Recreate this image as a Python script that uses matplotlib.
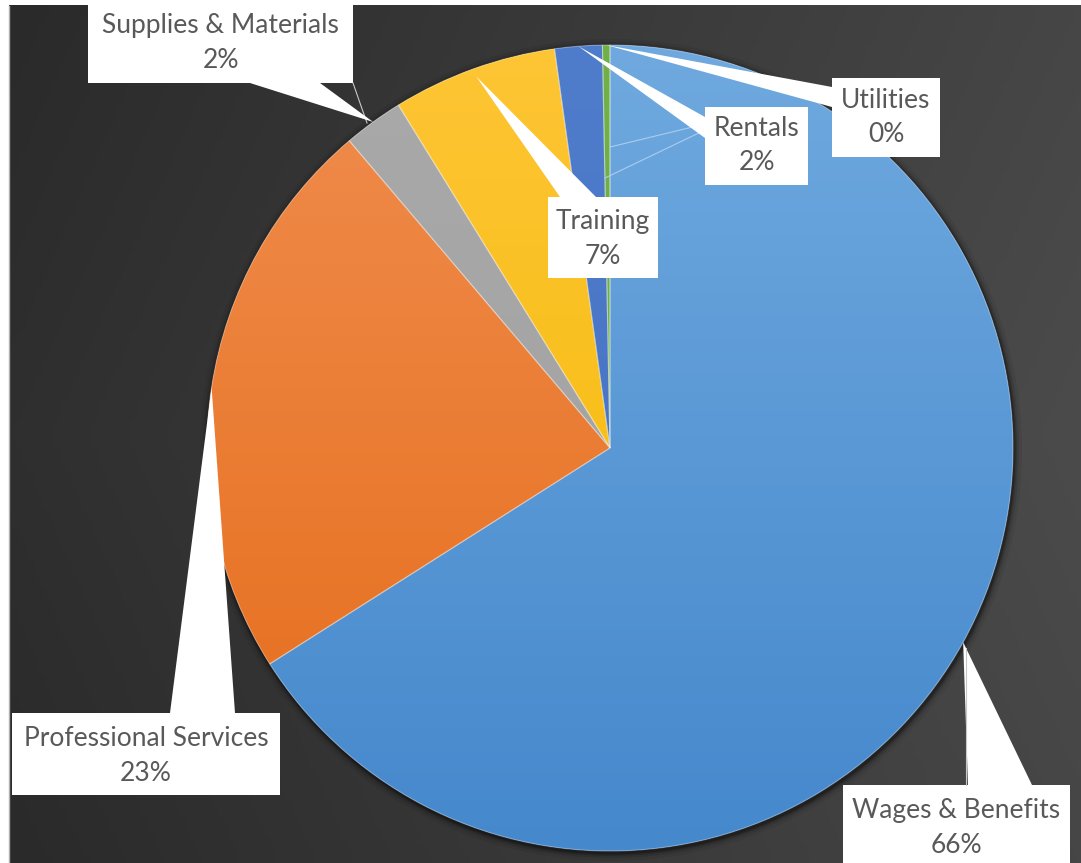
import numpy as np
import matplotlib.pyplot as plt
from matplotlib.patches import Wedge, Rectangle, Polygon, Circle
from matplotlib.colors import to_rgb

# Dados do gráfico
categories = ['Wages & Benefits', 'Professional Services', 'Supplies & Materials',
              'Training', 'Rentals', 'Utilities']
values = [66.0, 22.8, 2.4, 6.6, 1.9, 0.3]

# cores (topo -> base do gradiente)
colors_top = ['#6fa9df', '#f08d4e', '#a9a9a9', '#fec535', '#4f7ccb', '#72b04a']
colors_bot = ['#4588cc', '#e56c19', '#a0a0a0', '#f2b900', '#4270c0', '#6aa842']

W, H = 1081, 863
CX, CY, R = 610, H - 448, 403

# caixas dos rótulos (x0, y0, x1, y1 em pixels a partir do topo) e base do balão
boxes = {
    'Wages & Benefits': (843, 785, 1070, 867),
    'Professional Services': (12, 713, 280, 795),
    'Supplies & Materials': (88, 0, 353, 83),
    'Training': (548, 197, 658, 278),
    'Rentals': (705, 107, 808, 185),
    'Utilities': (832, 78, 940, 157),
}
bases = {
    'Wages & Benefits': [(968, 785), (1032, 785)],
    'Professional Services': [(170, 713), (235, 713)],
    'Supplies & Materials': [(250, 83), (320, 83)],
    'Training': [(560, 197), (596, 197)],
    'Rentals': [(705, 117), (705, 138)],
    'Utilities': [(832, 87), (832, 107)],
}
tip_r = {'Training': 0.98}

def Y(py):
    return H - py

fig = plt.figure(figsize=(W / 100, H / 100), dpi=100, facecolor='white')
ax = fig.add_axes([0, 0, 1, 1])

# fundo escuro com gradiente
gx = np.linspace(0, 1, 256)
gy = np.linspace(0, 1, 128)
GX, GY = np.meshgrid(gx, gy)
c0 = np.array(to_rgb('#2a2a2a'))
c1 = np.array(to_rgb('#4b4b4b'))
t = np.clip(0.85 * GX + 0.15 * (1 - abs(GY - 0.5) * 2), 0, 1)
bg = c0 + (c1 - c0) * t[..., None]
ax.imshow(bg, extent=(9, W, 0, Y(6)), origin='lower', aspect='auto', zorder=0)
ax.plot([8.5, 8.5], [0, Y(6)], color='#b0b0b0', lw=1, zorder=0.5)

# sombra
for k, a in [(8, 0.06), (5, 0.1), (3, 0.16), (1.5, 0.25)]:
    ax.add_patch(Circle((CX + 1, CY - 2), R + k, color='black', alpha=a, lw=0, zorder=1))

wedges, _ = ax.pie(values, center=(CX, CY), radius=R, startangle=90,
                   counterclock=False, colors=colors_bot,
                   wedgeprops=dict(linewidth=0, zorder=2))

# gradiente vertical em cada fatia
for w, ct, cb in zip(wedges, colors_top, colors_bot):
    g = np.linspace(0, 1, 256)[:, None]
    img = np.array(to_rgb(cb)) + (np.array(to_rgb(ct)) - np.array(to_rgb(cb))) * g[..., None]
    im = ax.imshow(img, extent=(CX - R, CX + R, CY - R, CY + R), origin='lower',
                   aspect='auto', zorder=3)
    im.set_clip_path(w)
    ax.add_patch(Wedge(w.center, w.r, w.theta1, w.theta2, fill=False,
                       edgecolor=(1, 1, 1, 0.35), lw=0.8, zorder=4))

# rótulos com balões
total = sum(values)
for w, name, v in zip(wedges, categories, values):
    mid = np.deg2rad((w.theta1 + w.theta2) / 2)
    rr = R * tip_r.get(name, 1.0)
    tip = (CX + rr * np.cos(mid), CY + rr * np.sin(mid))
    (bx0, by0), (bx1, by1) = bases[name]
    ax.add_patch(Polygon([tip, (bx0, Y(by0)), (bx1, Y(by1))], closed=True,
                         facecolor='white', edgecolor='none', zorder=6))
    x0, y0, x1, y1 = boxes[name]
    ax.add_patch(Rectangle((x0, Y(y1)), x1 - x0, y1 - y0, facecolor='white',
                           edgecolor='none', zorder=7))
    xc = (x0 + x1) / 2
    ax.text(xc, Y(y1 - 57), name, ha='center', va='center', fontsize=19,
            family='Lato', color='#595959', zorder=8)
    ax.text(xc, Y(y1 - 22), f'{round(v / total * 100)}%', ha='center', va='center',
            fontsize=19, family='Lato', color='#595959', zorder=8)

# linhas de chamada finas
lc = '#c8c8c8'
ax.plot([353, 367], [Y(83), Y(123)], color=lc, lw=0.8, zorder=5)
ax.plot([966, 966], [Y(648), Y(785)], color=lc, lw=0.8, zorder=7)
ax.plot([705, 610], [Y(124), Y(147)], color='#a9cdf0', lw=0.8, zorder=5)
ax.plot([705, 605], [Y(130), Y(178)], color='#a9cdf0', lw=0.8, zorder=5)

ax.set_xlim(0, W)
ax.set_ylim(0, H)
ax.set_aspect('auto')
ax.axis('off')
fig.savefig('out.png', dpi=100, facecolor='white')
